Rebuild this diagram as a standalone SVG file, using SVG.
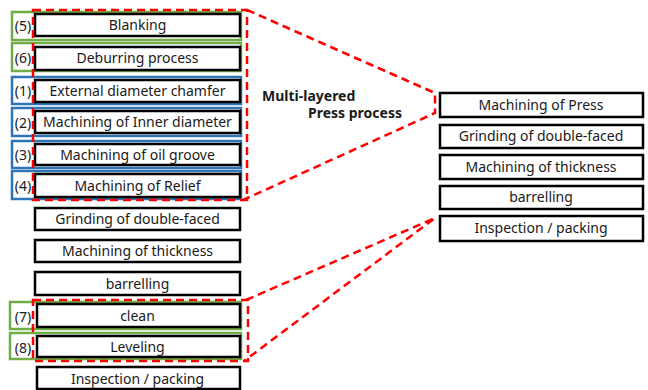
<svg xmlns="http://www.w3.org/2000/svg" width="648" height="390" viewBox="0 0 648 390">
<style>
.box{fill:#fff;stroke:#000;stroke-width:2.5}
.g{fill:none;stroke:#70AD47;stroke-width:2.5}
.b{fill:none;stroke:#2E75B6;stroke-width:2.5}
.red{fill:none;stroke:#FF0000;stroke-width:2.5;stroke-dasharray:8 5}
text{font-family:"Noto Sans","Liberation Sans",sans-serif;font-size:14px;fill:#1a1a1a;text-anchor:middle}
.lbl{font-size:14px}
.bold{font-weight:bold;text-anchor:start;font-size:14px}
</style>
<rect width="648" height="390" fill="#fff"/>
<g id="marks">
<rect class="g" x="12" y="12" width="229" height="28"/>
<rect class="g" x="12" y="43" width="229" height="28"/>
<rect class="b" x="12" y="77" width="229" height="27"/>
<rect class="b" x="12" y="108" width="229" height="28"/>
<rect class="b" x="12" y="141" width="229" height="27"/>
<rect class="b" x="12" y="171" width="229" height="28"/>
<rect class="g" x="10" y="302" width="231" height="27"/>
<rect class="g" x="10" y="333" width="231" height="26"/>
</g>
<g id="n-blanking"><rect class="box" x="35" y="14" width="205" height="22"/><text x="137.5" y="30">Blanking</text><text class="lbl" x="23" y="31">(5)</text></g>
<g id="n-deburring"><rect class="box" x="35" y="47" width="205" height="23"/><text x="137.5" y="63">Deburring process</text><text class="lbl" x="23" y="63">(6)</text></g>
<g id="n-external"><rect class="box" x="35" y="80" width="205" height="22"/><text x="137.5" y="96">External diameter chamfer</text><text class="lbl" x="23" y="96">(1)</text></g>
<g id="n-inner"><rect class="box" x="35" y="111" width="205" height="22"/><text x="137.5" y="127">Machining of Inner diameter</text><text class="lbl" x="23" y="128">(2)</text></g>
<g id="n-oil"><rect class="box" x="35" y="144" width="205" height="21"/><text x="137.5" y="160">Machining of oil groove</text><text class="lbl" x="23" y="160">(3)</text></g>
<g id="n-relief"><rect class="box" x="35" y="174" width="205" height="23"/><text x="137.5" y="191">Machining of Relief</text><text class="lbl" x="23" y="191">(4)</text></g>
<g id="n-grinding"><rect class="box" x="35" y="208" width="205" height="22"/><text x="137.5" y="224">Grinding of double-faced</text></g>
<g id="n-thickness"><rect class="box" x="35" y="240" width="205" height="22"/><text x="137.5" y="256">Machining of thickness</text></g>
<g id="n-barrelling"><rect class="box" x="35" y="272" width="205" height="23"/><text x="137.5" y="289">barrelling</text></g>
<g id="n-clean"><rect class="box" x="37" y="304" width="203" height="23"/><text x="137.5" y="321">clean</text><text class="lbl" x="23" y="322">(7)</text></g>
<g id="n-leveling"><rect class="box" x="37" y="336" width="203" height="21"/><text x="137.5" y="352">Leveling</text><text class="lbl" x="23" y="353">(8)</text></g>
<g id="n-inspection"><rect class="box" x="37" y="367" width="203" height="22"/><text x="137.5" y="384">Inspection / packing</text></g>
<g id="r-press"><rect class="box" x="440" y="93" width="203" height="24"/><text x="541" y="110">Machining of Press</text></g>
<g id="r-grinding"><rect class="box" x="440" y="125" width="203" height="23"/><text x="541" y="141">Grinding of double-faced</text></g>
<g id="r-thickness"><rect class="box" x="440" y="155" width="203" height="24"/><text x="541" y="172">Machining of thickness</text></g>
<g id="r-barrelling"><rect class="box" x="440" y="186" width="203" height="23"/><text x="541" y="202">barrelling</text></g>
<g id="r-inspection"><rect class="box" x="440" y="216" width="203" height="25"/><text x="541" y="233">Inspection / packing</text></g>
<g id="label"><text class="bold" x="262" y="101">Multi-layered</text><text class="bold" x="308" y="118">Press process</text></g>
<g id="connectors">
<rect class="red" x="33" y="10" width="214" height="190"/>
<rect class="red" x="33" y="300" width="215" height="61"/>
<polyline class="red" points="247,10 435,93 435,113 243,200"/>
<polyline class="red" points="246,300 435,218 244,361"/>
</g>
</svg>
